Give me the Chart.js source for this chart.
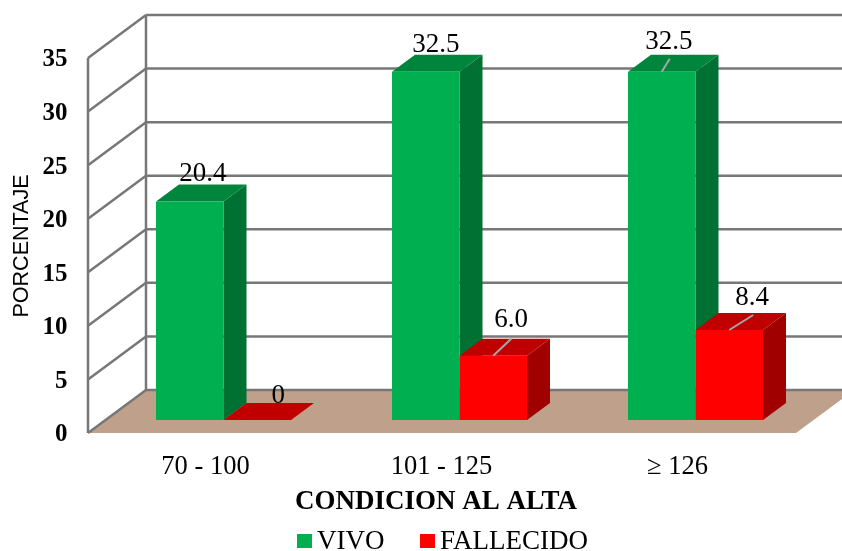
<!DOCTYPE html>
<html>
<head>
<meta charset="utf-8">
<title>Condicion al alta</title>
<script src="https://cdn.jsdelivr.net/npm/chart.js@4/dist/chart.umd.min.js"></script>
<style>
  html, body { margin: 0; padding: 0; background: #fff; }
  canvas { display: block; }
</style>
</head>
<body>
<canvas id="chartAlta" width="842" height="551"></canvas>
<script>
const categories = ["70 - 100", "101 - 125", "\u2265 126"];
const vivo = [20.4, 32.5, 32.5];
const fallecido = [0, 6.0, 8.4];
const yTicks = [0, 5, 10, 15, 20, 25, 30, 35];

const serif = "'Liberation Serif', 'Times New Roman', serif";
const sans = "'Liberation Sans', Arial, sans-serif";
const gridColor = "#777777";
const floorColor = "#bfa08a";
const leaderColor = "#a6a6a6";

// bars stand on a plane between the front edge of the floor and the back wall
const frontOffset = { x: -17.5, y: 13 };
const backOffset = { x: 40.5, y: -30 };
const barDepth = { x: 23, y: -17 };

// where each value label sits from the top centre of its bar, first vivo then fallecido
const labelShift = [
  [{ x: 13, y: -28 }, { x: 10, y: -27 }, { x: 7, y: -30, leader: { x: 8, y: -13 } }],
  [{ x: 21, y: -24 }, { x: 18, y: -36, leader: { x: 18, y: -17 } }, { x: 23, y: -32, leader: { x: 24, y: -15 } }],
];

function polygon(ctx, points, color) {
  ctx.fillStyle = color;
  ctx.beginPath();
  points.forEach((p, i) => (i == 0 ? ctx.moveTo(p[0], p[1]) : ctx.lineTo(p[0], p[1])));
  ctx.closePath();
  ctx.fill();
}

function line(ctx, x1, y1, x2, y2, color, width) {
  ctx.strokeStyle = color;
  ctx.lineWidth = width;
  ctx.beginPath();
  ctx.moveTo(x1, y1);
  ctx.lineTo(x2, y2);
  ctx.stroke();
}

const box3d = {
  id: "box3d",
  beforeDatasetsDraw(chart) {
    const { ctx, chartArea, scales } = chart;
    const y = scales.y;
    const base = y.getPixelForValue(0);
    const frontLeft = chartArea.left + frontOffset.x;
    const frontRight = chartArea.right + frontOffset.x;
    const backLeft = chartArea.left + backOffset.x;
    const backRight = chartArea.right + backOffset.x;
    ctx.save();

    // floor and walls
    polygon(ctx, [
      [frontLeft, base + frontOffset.y],
      [frontRight, base + frontOffset.y],
      [backRight, base + backOffset.y],
      [backLeft, base + backOffset.y],
    ], floorColor);
    yTicks.forEach((tick) => {
      const py = y.getPixelForValue(tick);
      line(ctx, frontLeft, py + frontOffset.y, backLeft, py + backOffset.y, gridColor, 2.5);
      line(ctx, backLeft, py + backOffset.y, backRight, py + backOffset.y, gridColor, 2.5);
    });
    const top = y.getPixelForValue(yTicks[yTicks.length - 1]);
    line(ctx, frontLeft, base + frontOffset.y, frontLeft, top + frontOffset.y, gridColor, 2.5);
    line(ctx, backLeft, base + backOffset.y, backLeft, top + backOffset.y, gridColor, 2.5);

    // side and top faces, vivo first so the red tops land over the green sides;
    // the library paints the front faces right after this
    chart.data.datasets.forEach((dataset, d) => {
      chart.getDatasetMeta(d).data.forEach((bar) => {
        const left = bar.x - bar.width / 2;
        const right = bar.x + bar.width / 2;
        polygon(ctx, [
          [right, bar.y],
          [right, bar.base],
          [right + barDepth.x, bar.base + barDepth.y],
          [right + barDepth.x, bar.y + barDepth.y],
        ], dataset.sideColor);
        polygon(ctx, [
          [left, bar.y],
          [right, bar.y],
          [right + barDepth.x, bar.y + barDepth.y],
          [left + barDepth.x, bar.y + barDepth.y],
        ], dataset.topColor);
      });
    });
    ctx.restore();
  },
  // value labels, axis titles and legend
  afterDatasetsDraw(chart) {
    const { ctx } = chart;
    ctx.save();
    ctx.textBaseline = "middle";
    ctx.textAlign = "center";
    ctx.fillStyle = "#000";
    chart.data.datasets.forEach((dataset, d) => {
      const meta = chart.getDatasetMeta(d);
      meta.data.forEach((bar, i) => {
        const shift = labelShift[d][i];
        const value = dataset.data[i];
        if (shift.leader) {
          line(ctx, bar.x, bar.y, bar.x + shift.leader.x, bar.y + shift.leader.y, leaderColor, 2);
        }
        ctx.font = "27px " + serif;
        ctx.fillText(value == 0 ? "0" : value.toFixed(1), bar.x + shift.x, bar.y + shift.y);
      });
    });

    ctx.font = "bold 27px " + serif;
    ctx.fillText("CONDICION AL ALTA", 436, 502);

    ctx.save();
    ctx.translate(22, 246);
    ctx.rotate(-Math.PI / 2);
    ctx.font = "21.5px " + sans;
    ctx.fillText("PORCENTAJE", 0, 0);
    ctx.restore();

    ctx.textAlign = "left";
    ctx.font = "27px " + serif;
    [297, 420].forEach((x, d) => {
      const dataset = chart.data.datasets[d];
      ctx.fillStyle = dataset.backgroundColor;
      ctx.fillRect(x, 534, 15, 14);
      ctx.fillStyle = "#000";
      ctx.fillText(dataset.label, x + 20, 542);
    });
    ctx.restore();
  },
};

const whiteBackground = {
  id: "whiteBackground",
  beforeDraw(chart) {
    chart.ctx.save();
    chart.ctx.fillStyle = "#fff";
    chart.ctx.fillRect(0, 0, chart.width, chart.height);
    chart.ctx.restore();
  },
};

new Chart(document.getElementById("chartAlta"), {
  type: "bar",
  data: {
    labels: categories,
    datasets: [
      {
        label: "VIVO",
        data: vivo,
        backgroundColor: "#00b050",
        sideColor: "#007033",
        topColor: "#00863c",
      },
      {
        label: "FALLECIDO",
        data: fallecido,
        backgroundColor: "#ff0000",
        sideColor: "#a00000",
        topColor: "#c00000",
      },
    ],
  },
  options: {
    responsive: false,
    animation: false,
    events: [],
    layout: { padding: { top: 45, right: 28.5, bottom: 51, left: 0 } },
    datasets: { bar: { categoryPercentage: 0.572, barPercentage: 1 } },
    plugins: {
      legend: { display: false },
      tooltip: { enabled: false },
    },
    scales: {
      x: {
        grid: { display: false },
        border: { display: false },
        ticks: {
          color: "#000",
          font: { family: serif, size: 26.5 },
          labelOffset: -18,
          padding: 23,
          maxRotation: 0,
        },
        afterFit(scale) {
          scale.height = 80;
          scale.paddingLeft = 0;
          scale.paddingRight = 0;
        },
      },
      y: {
        min: 0,
        max: 35,
        grid: { display: false },
        border: { display: false },
        ticks: {
          stepSize: 5,
          color: "#000",
          font: { family: serif, size: 25, weight: "bold" },
          labelOffset: 15,
          padding: 30,
        },
        afterFit(scale) {
          scale.width = 105.5;
          scale.paddingTop = 0;
          scale.paddingBottom = 0;
        },
      },
    },
  },
  plugins: [whiteBackground, box3d],
});
</script>
</body>
</html>
